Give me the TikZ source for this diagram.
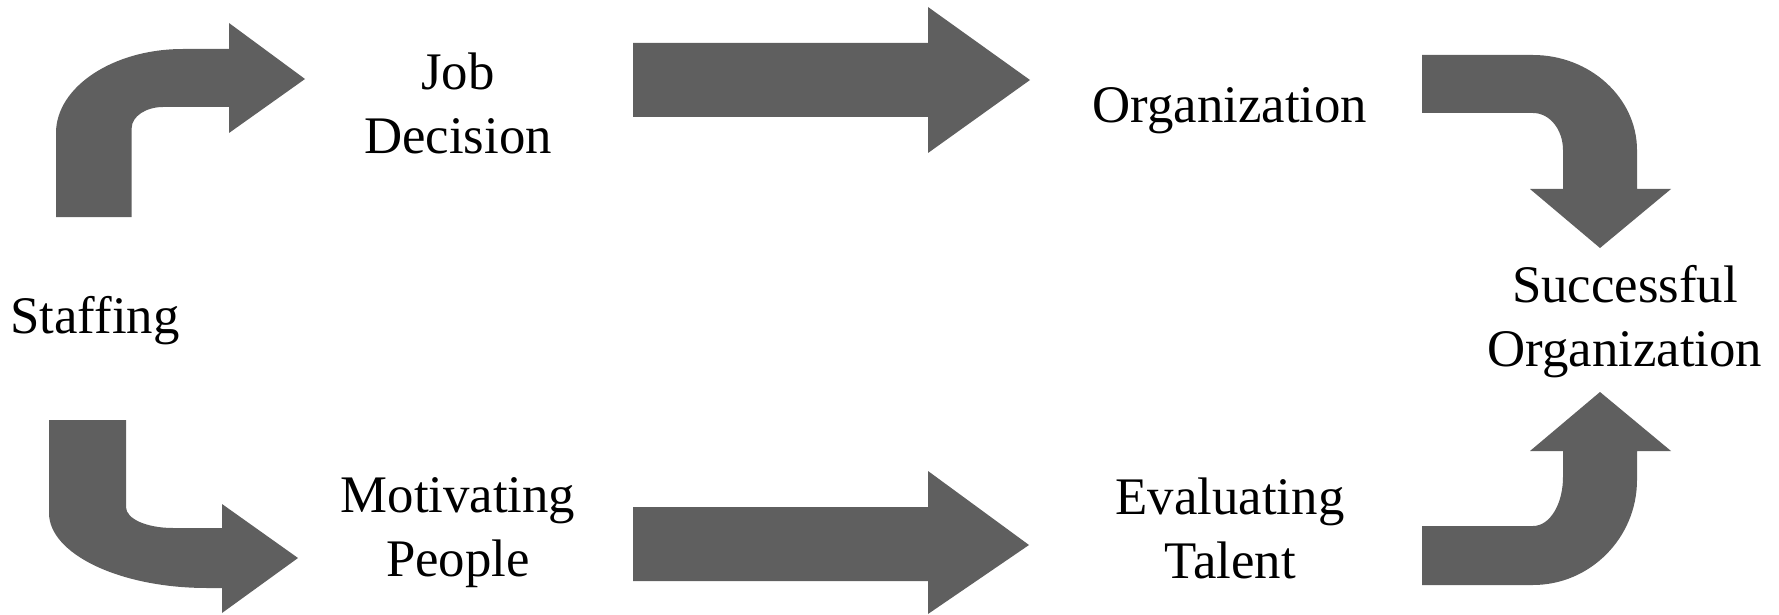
\documentclass[tikz,border=0pt]{standalone}
\usepackage{fontspec}
\setmainfont{Liberation Serif}
\definecolor{arrowgray}{RGB}{95,95,95}
\tikzset{
  blockarrow/.style={fill=arrowgray, draw=none},
  label/.style={font=\fontsize{26.4pt}{32pt}\selectfont, align=center, inner sep=0pt, text=black}
}
\begin{document}
\begin{tikzpicture}[x=0.5pt, y=-0.5pt]
\useasboundingbox (0,0) rectangle (1779,615);
% text nodes
\node[label] (staffing) at (95,321) {Staffing};
\node[label] (job) at (458,103) {Job\\Decision};
\node[label] (org) at (1230,111) {Organization};
\node[label] (succ) at (1625,322) {Successful\\Organization};
\node[label] (motiv) at (458,533) {Motivating\\People};
\node[label] (eval) at (1230,528) {Evaluating\\Talent};
% top-left bent arrow
\fill[blockarrow] (56,217) -- (56,133) .. controls (56,87) and (113,49) .. (183,49)
  -- (229,49) -- (229,23) -- (305,79) -- (229,133) -- (229,107) -- (163,107)
  .. controls (146,107) and (131.7,116.4) .. (131.7,128) -- (131.7,217) -- cycle;
% bottom-left bent arrow
\fill[blockarrow] (49,420) -- (126,420) -- (126,507) .. controls (126,519) and (147,528) .. (173,528)
  -- (222,528) -- (222,504) -- (298,558) -- (222,613) -- (222,588) -- (207,588)
  .. controls (120,588) and (49,554) .. (49,513) -- cycle;
% straight arrows
\fill[blockarrow] (633,43) -- (928,43) -- (928,7) -- (1030,80) -- (928,153) -- (928,117) -- (633,117) -- cycle;
\fill[blockarrow] (633,507) -- (928,507) -- (928,471) -- (1029,545) -- (928,614) -- (928,581) -- (633,581) -- cycle;
% top-right bent arrow
\fill[blockarrow] (1422,55) -- (1533,55) .. controls (1590,55) and (1637,98) .. (1637,150)
  -- (1637,189) -- (1671,189) -- (1600,248) -- (1530,189) -- (1563,189) -- (1563,150)
  .. controls (1563,130) and (1550,113) .. (1533,113) -- (1422,113) -- cycle;
% bottom-right bent arrow
\fill[blockarrow] (1422,585) -- (1533,585) .. controls (1590,585) and (1637,538) .. (1637,480)
  -- (1637,451) -- (1671,451) -- (1600,392) -- (1530,451) -- (1563,451) -- (1563,477)
  .. controls (1563,504) and (1550,526) .. (1533,526) -- (1422,526) -- cycle;
\end{tikzpicture}
\end{document}
